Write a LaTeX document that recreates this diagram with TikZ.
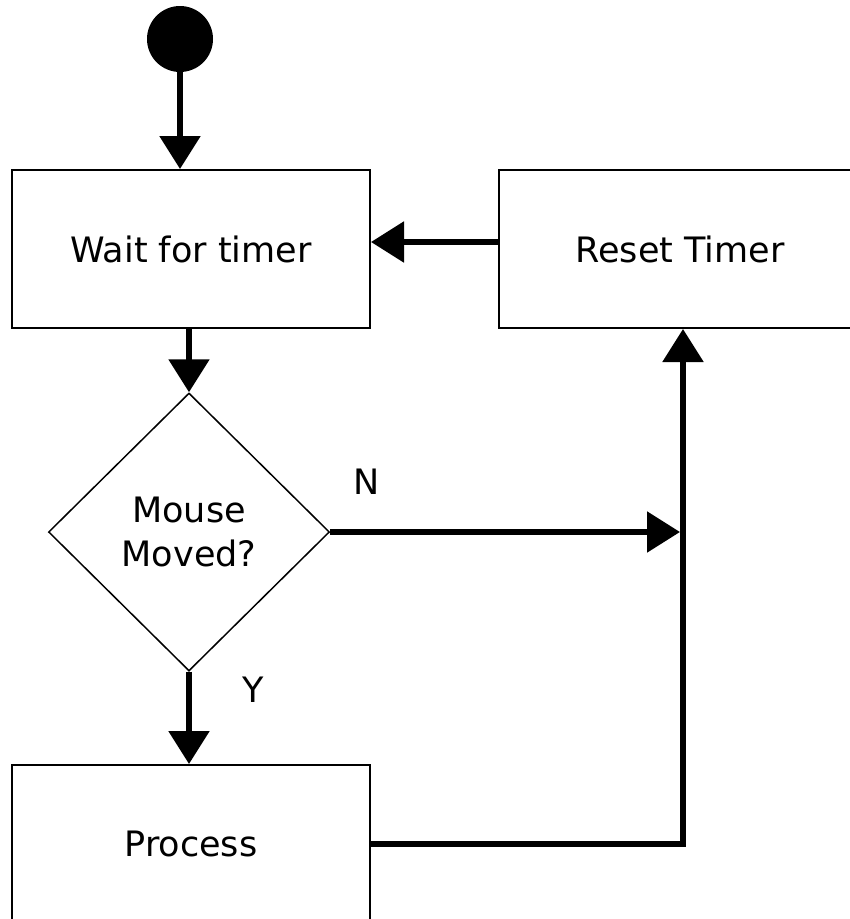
\documentclass[tikz,border=0pt]{standalone}
\usepackage{fontspec}
\setmainfont{DejaVu Sans}
\usetikzlibrary{arrows.meta,shapes.geometric}

\begin{document}
\begin{tikzpicture}[x=1pt,y=-1pt,
  every node/.style={font=\fontsize{35}{44}\selectfont},
  box/.style={draw, line width=2pt, rectangle, minimum width=358pt, minimum height=158pt, inner sep=0pt},
  decision/.style={draw, line width=1.5pt, diamond, minimum width=281pt, minimum height=278pt, inner sep=0pt, align=center},
  flow/.style={line width=5.5pt, -{Triangle[length=33pt,width=40pt]}},
  plain/.style={line width=5.5pt}]
  \clip (0,0) rectangle (850,919);
  \fill[white] (0,0) rectangle (850,919);

  % nodes
  \node[circle, fill=black, minimum size=66pt, inner sep=0pt] (start) at (180,39) {};
  \node[box] (wait) at (191,249) {Wait for timer};
  \node[box, minimum width=362pt] (reset) at (680,249) {Reset Timer};
  \node[decision] (dia) at (189,532) {Mouse\\Moved?};
  \node[box] (proc) at (191,844) {Process};
  \coordinate (join) at (680,532);

  % labels
  \node (n) at (367,482) {N};
  \node (y) at (253,690) {Y};

  % connectors
  \draw[flow] (start.south) -- (start |- wait.north);
  \draw[flow] ([yshift=7pt]reset.west) -- ([yshift=7pt]wait.east);
  \draw[flow] (wait.south -| dia.north) -- (dia.north);
  \draw[flow] (dia.east) -- (join);
  \draw[flow] (dia.south) -- (dia.south |- proc.north);
  \draw[flow] (proc.east) -| ([xshift=3pt]reset.south);
\end{tikzpicture}
\end{document}
